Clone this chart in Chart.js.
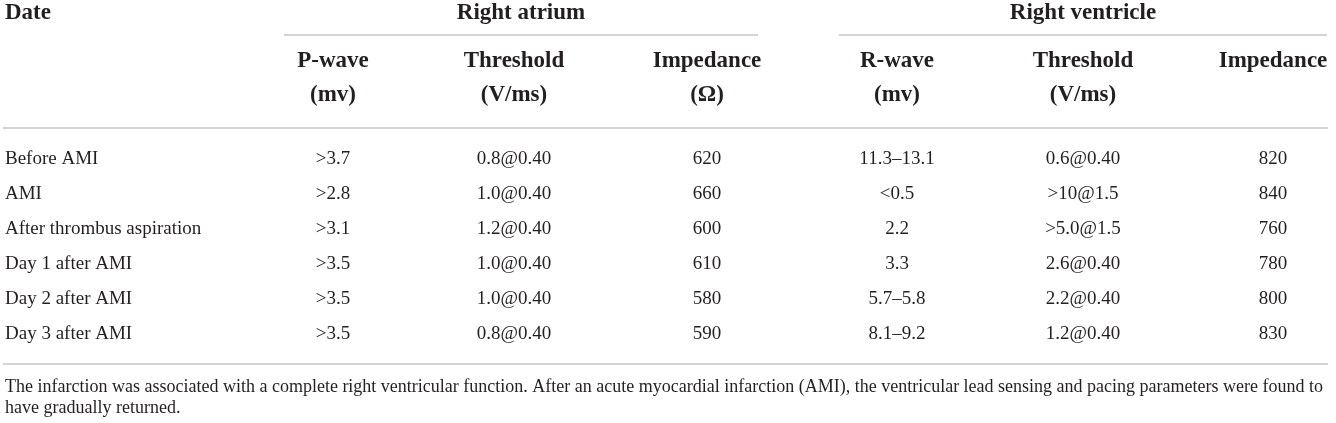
<!DOCTYPE html>
<html>
<head>
<meta charset="utf-8">
<script src="https://cdn.jsdelivr.net/npm/chart.js@4"></script>
<style>
  html, body { margin: 0; padding: 0; background: #fff; }
  #wrap { width: 1336px; height: 423px; }
</style>
</head>
<body>
<div id="wrap"><canvas id="myChart" width="1336" height="423"></canvas></div>
<script>
// table values
const dates = ['Before AMI', 'AMI', 'After thrombus aspiration', 'Day 1 after AMI', 'Day 2 after AMI', 'Day 3 after AMI'];
const pWave = ['>3.7', '>2.8', '>3.1', '>3.5', '>3.5', '>3.5'];
const raThreshold = ['0.8@0.40', '1.0@0.40', '1.2@0.40', '1.0@0.40', '1.0@0.40', '0.8@0.40'];
const raImpedance = [620, 660, 600, 610, 580, 590];
const rWave = ['11.3\u201313.1', '<0.5', '2.2', '3.3', '5.7\u20135.8', '8.1\u20139.2'];
const rvThreshold = ['0.6@0.40', '>10@1.5', '>5.0@1.5', '2.6@0.40', '2.2@0.40', '1.2@0.40'];
const rvImpedance = [820, 840, 760, 780, 800, 830];

const firstHeader = 'Date';
const groups = ['Right atrium', 'Right ventricle'];
const subHeadTop = ['P-wave', 'Threshold', 'Impedance', 'R-wave', 'Threshold', 'Impedance'];
const subHeadBottom = ['(mv)', '(V/ms)', '(\u03a9)', '(mv)', '(V/ms)', ''];
const footnote = [
  'The infarction was associated with a complete right ventricular function. After an acute myocardial infarction (AMI), the ventricular lead sensing and pacing parameters were found to',
  'have gradually returned.'
];

// layout (pixel units of the hidden scales)
const W = 1336, H = 423;
const colX = [5, 333, 514, 707, 897, 1083, 1273];
const groupSpan = [[284, 758], [839, 1327]];
const yGroup = 13, yGroupRule = 35, ySub1 = 61, ySub2 = 95, yHeadRule = 128;
const yRow0 = 159, rowStep = 35, yBottomRule = 364;
const yFoot = [387, 408];

const serif = '"Liberation Serif", "Times New Roman", serif';
const bodyFont = '19px ' + serif;
const headFont = 'bold 23px ' + serif;
const footFont = '18px ' + serif;
const ink = '#231f20';
const ruleColor = '#c6c6c6';

function textSet(texts, pts, font, align) {
  return {
    type: 'scatter',
    data: pts,
    texts: texts.map(String),
    font: font,
    align: align,
    pointRadius: 0,
    pointHoverRadius: 0,
    showLine: false
  };
}

function rule(x0, x1, y) {
  return {
    type: 'line',
    data: [{x: x0, y: y}, {x: x1, y: y}],
    borderColor: ruleColor,
    borderWidth: 1.4,
    pointRadius: 0,
    fill: false
  };
}

const columns = [dates, pWave, raThreshold, raImpedance, rWave, rvThreshold, rvImpedance];
const datasets = [];

datasets.push(rule(284, 758, yGroupRule));
datasets.push(rule(839, 1327, yGroupRule));
datasets.push(rule(3, 1328, yHeadRule));
datasets.push(rule(3, 1328, yBottomRule));

datasets.push(textSet([firstHeader], [{x: colX[0], y: yGroup}], headFont, 'left'));
datasets.push(textSet(groups, groupSpan.map(s => ({x: (s[0] + s[1]) / 2, y: yGroup})), headFont, 'center'));
datasets.push(textSet(subHeadTop, subHeadTop.map((t, i) => ({x: colX[i + 1], y: ySub1})), headFont, 'center'));
datasets.push(textSet(subHeadBottom, subHeadBottom.map((t, i) => ({x: colX[i + 1], y: ySub2})), headFont, 'center'));

columns.forEach((col, c) => {
  const pts = col.map((v, i) => ({x: colX[c], y: yRow0 + i * rowStep}));
  datasets.push(textSet(col, pts, bodyFont, c === 0 ? 'left' : 'center'));
});

datasets.push(textSet(footnote, yFoot.map(y => ({x: colX[0], y: y})), footFont, 'left'));

const tableText = {
  id: 'tableText',
  afterDatasetsDraw(chart) {
    const ctx = chart.ctx;
    chart.data.datasets.forEach((ds, di) => {
      if (!ds.texts) return;
      const meta = chart.getDatasetMeta(di);
      ctx.save();
      ctx.font = ds.font;
      ctx.fillStyle = ink;
      ctx.textAlign = ds.align;
      ctx.textBaseline = 'middle';
      meta.data.forEach((pt, i) => ctx.fillText(ds.texts[i], pt.x, pt.y));
      ctx.restore();
    });
  }
};

const ctx = document.getElementById('myChart');

let chart = new Chart(ctx, {
  type: 'scatter',
  data: { datasets: datasets },
  options: {
    responsive: false,
    animation: false,
    devicePixelRatio: 1,
    layout: { padding: 0 },
    plugins: { legend: { display: false }, tooltip: { enabled: false } },
    scales: {
      x: { type: 'linear', min: 0, max: W, display: false },
      y: { type: 'linear', min: 0, max: H, reverse: true, display: false }
    }
  },
  plugins: [tableText]
});
</script>
</body>
</html>
